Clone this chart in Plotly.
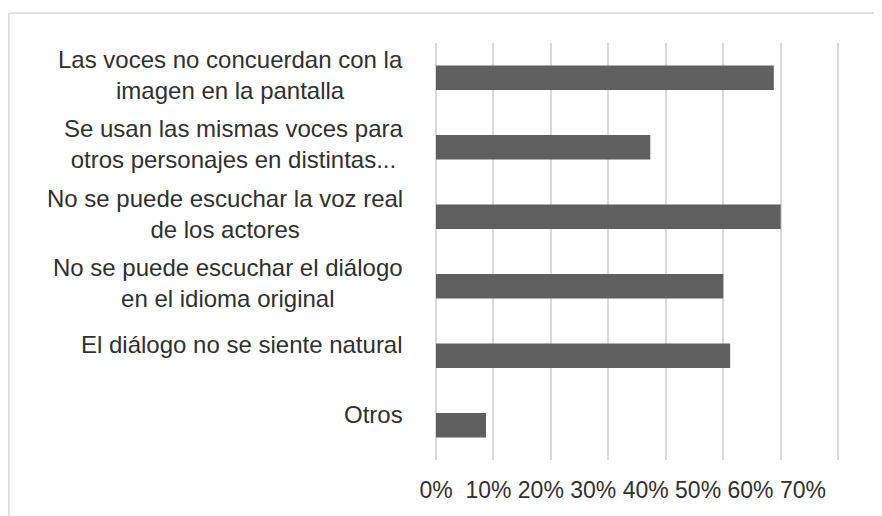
import plotly.graph_objects as go

categories = [
    "Las voces no concuerdan con la<br>imagen en la pantalla",
    "Se usan las mismas voces para<br>otros personajes en distintas...",
    "No se puede escuchar la voz real<br>de los actores",
    "No se puede escuchar el diálogo<br>en el idioma original",
    "El diálogo no se siente natural",
    "Otros",
]
values = [0.588, 0.373, 0.600, 0.500, 0.512, 0.087]
tick_values = [0.0, 0.1, 0.2, 0.3, 0.4, 0.5, 0.6, 0.7]
tick_labels = ["0%", "10%", "20%", "30%", "40%", "50%", "60%", "70%"]

TEXT = "#303030"
GRID = "#d9d9d9"
FONT = "Liberation Sans, Arial, sans-serif"

fig = go.Figure()
fig.add_trace(go.Bar(
    x=values, y=categories, orientation="h",
    marker=dict(color="#5f5f5f", line=dict(width=0)),
    hoverinfo="x+y", showlegend=False,
))
# helper trace so the label axis is drawn
fig.add_trace(go.Scatter(
    x=tick_values, y=[categories[0]] * len(tick_values), xaxis="x2",
    mode="markers", marker=dict(opacity=0), hoverinfo="skip", showlegend=False,
))

annotations = []
for c in categories:
    annotations.append(dict(
        x=0, xref="paper", y=c, yref="y", text=c, showarrow=False,
        xanchor="right", yanchor="middle", align="center", xshift=-31,
        yshift=3 if "<br>" in c else 11,
        font=dict(family=FONT, size=24, color=TEXT),
    ))

# page offset of 8px (body margin) is compensated by the margins below
PW = 404.9
fx = lambda px: (px - 436) / PW
fy = lambda py: (460 - py) / 417.0
shapes = [
    dict(type="line", xref="paper", yref="paper", x0=fx(9), x1=fx(900), y0=fy(13), y1=fy(13),
         line=dict(color=GRID, width=1.5)),
    dict(type="line", xref="paper", yref="paper", x0=fx(9), x1=fx(9), y0=fy(13), y1=fy(540),
         line=dict(color=GRID, width=1.5)),
]

fig.update_layout(
    width=874, height=508,
    margin=dict(l=428, r=874 - 428 - PW, t=35, b=508 - 35 - 417),
    paper_bgcolor="white", plot_bgcolor="white",
    bargap=0.647,
    xaxis=dict(range=[0, 0.705], tickvals=tick_values, showticklabels=False,
               showgrid=True, gridcolor=GRID, gridwidth=1.5,
               zeroline=True, zerolinecolor=GRID, zerolinewidth=1.5,
               showline=False, ticks="", fixedrange=True),
    xaxis2=dict(overlaying="x", anchor="y", side="bottom", range=[0, 0.7727],
                tickvals=tick_values, ticktext=tick_labels, showgrid=False,
                zeroline=False, showline=False, ticks="", ticklabelstandoff=14,
                tickfont=dict(family=FONT, size=23, color=TEXT)),
    yaxis=dict(type="category", categoryorder="array", categoryarray=categories,
               autorange="reversed", showticklabels=False, showgrid=False,
               zeroline=False, showline=False, ticks=""),
    annotations=annotations,
    shapes=shapes,
    font=dict(family=FONT, color=TEXT),
)

fig.write_html("out.html")
